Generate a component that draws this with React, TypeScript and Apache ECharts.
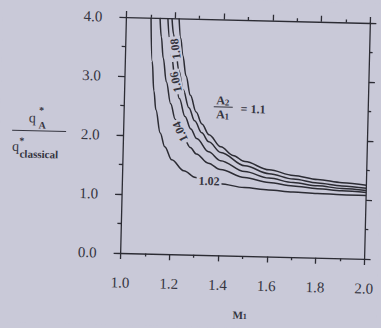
import React, { useEffect, useRef } from 'react';
import * as echarts from 'echarts';

// Area ratio A2/A1 for each curve
const ratioLabels = ['1.02', '1.04', '1.06', '1.08', '1.1'];

// Mach number M1 (x) and q*_A / q*_classical (y)
const m102 = [1.101, 1.11, 1.12, 1.13, 1.15, 1.17, 1.2, 1.25, 1.3, 1.35, 1.4, 1.5, 1.6, 1.7, 1.8, 1.9, 2.0];
const q102 = [4.0, 3.26, 2.76, 2.44, 2.05, 1.82, 1.6, 1.42, 1.31, 1.26, 1.215, 1.16, 1.13, 1.105, 1.09, 1.08, 1.075];

const m104 = [1.138, 1.145, 1.155, 1.17, 1.19, 1.21, 1.23, 1.25, 1.275, 1.3, 1.35, 1.4, 1.5, 1.6, 1.7, 1.8, 1.9, 2.0];
const q104 = [4.0, 3.68, 3.32, 2.92, 2.55, 2.29, 2.1, 1.95, 1.815, 1.71, 1.558, 1.456, 1.33, 1.255, 1.206, 1.171, 1.146, 1.127];

const m106 = [1.17, 1.18, 1.19, 1.205, 1.225, 1.25, 1.275, 1.3, 1.35, 1.4, 1.5, 1.6, 1.7, 1.8, 1.9, 2.0];
const q106 = [4.0, 3.63, 3.33, 2.98, 2.64, 2.34, 2.13, 1.97, 1.75, 1.605, 1.43, 1.33, 1.264, 1.219, 1.186, 1.161];

const m108 = [1.187, 1.195, 1.205, 1.22, 1.24, 1.265, 1.29, 1.32, 1.35, 1.4, 1.5, 1.6, 1.7, 1.8, 1.9, 2.0];
const q108 = [4.0, 3.73, 3.46, 3.12, 2.79, 2.49, 2.27, 2.07, 1.92, 1.744, 1.528, 1.404, 1.324, 1.268, 1.228, 1.197];

const m110 = [1.216, 1.225, 1.235, 1.25, 1.27, 1.295, 1.32, 1.35, 1.4, 1.45, 1.5, 1.6, 1.7, 1.8, 1.9, 2.0];
const q110 = [4.0, 3.66, 3.37, 3.03, 2.7, 2.42, 2.22, 2.04, 1.84, 1.7, 1.6, 1.47, 1.385, 1.326, 1.283, 1.25];

// Where each curve label sits on its curve (M1, q) and its tilt in degrees
const labelM = [1.355, 1.232, 1.2085, 1.204];
const labelQ = [1.255, 2.08, 2.92, 3.48];
const labelTilt = [0, 116, 104, 99];

const BG = '#c9c9d8';
const INK = '#2c2c34';
const TEXT = '#35353f';
const SERIF = '"Liberation Serif", "DejaVu Serif", serif';

export default function App() {
  const ref = useRef<HTMLDivElement>(null);

  useEffect(() => {
    const chart = echarts.init(ref.current!, null, { renderer: 'svg' });
    const curves = [
      [m102, q102],
      [m104, q104],
      [m106, q106],
      [m108, q108],
      [m110, q110],
    ];
    const axisLineStyle = { color: INK, width: 1.3 };
    const fmt = (v: number) => v.toFixed(1);
    const labelStyle = { fontFamily: SERIF, fontSize: 15, color: TEXT };

    const option: any = {
      animation: false,
      backgroundColor: BG,
      grid: { left: 123.5, right: 13.5, top: 20, bottom: 72 },
      xAxis: [
        {
          type: 'value', min: 1, max: 2, interval: 0.2, position: 'bottom',
          axisLine: { show: true, onZero: false, lineStyle: axisLineStyle },
          axisTick: { show: true, length: 6, lineStyle: axisLineStyle },
          minorTick: { show: true, splitNumber: 2, length: 3, lineStyle: axisLineStyle },
          splitLine: { show: false }, minorSplitLine: { show: false },
          axisLabel: { ...labelStyle, formatter: fmt, margin: 22 },
        },
        {
          type: 'value', min: 1, max: 2, interval: 0.2, position: 'top',
          axisLine: { show: true, onZero: false, lineStyle: axisLineStyle },
          axisTick: { show: true, length: 6, lineStyle: axisLineStyle },
          minorTick: { show: true, splitNumber: 2, length: 3, lineStyle: axisLineStyle },
          splitLine: { show: false },
          axisLabel: { show: false },
        },
      ],
      yAxis: [
        {
          type: 'value', min: 0, max: 4, interval: 1, position: 'left',
          axisLine: { show: true, onZero: false, lineStyle: axisLineStyle },
          axisTick: { show: true, length: 7, lineStyle: axisLineStyle },
          minorTick: { show: true, splitNumber: 2, length: 4, lineStyle: axisLineStyle },
          splitLine: { show: false },
          axisLabel: { ...labelStyle, formatter: fmt, margin: 24 },
        },
        {
          type: 'value', min: 0, max: 4, interval: 1, position: 'right',
          axisLine: { show: true, onZero: false, lineStyle: axisLineStyle },
          axisTick: { show: true, length: 6, lineStyle: axisLineStyle },
          minorTick: { show: true, splitNumber: 2, length: 3, lineStyle: axisLineStyle },
          splitLine: { show: false },
          axisLabel: { show: false },
        },
      ],
      series: curves.map(([mx, qy], i) => ({
        type: 'line',
        name: ratioLabels[i],
        xAxisIndex: 0,
        yAxisIndex: 0,
        data: mx.map((m, j) => [m, qy[j]]),
        showSymbol: false,
        smooth: 0.35,
        smoothMonotone: 'x',
        lineStyle: { color: INK, width: 1.5 },
        clip: true,
        z: 2,
      })),
    };
    chart.setOption(option);

    const curveLabels = labelM.map((m, i) => {
      const p = chart.convertToPixel({ xAxisIndex: 0, yAxisIndex: 0 }, [m, labelQ[i]]) as number[];
      return {
        type: 'text',
        x: p[0],
        y: p[1],
        rotation: (labelTilt[i] * Math.PI) / 180,
        z: 100,
        style: {
          text: ratioLabels[i],
          align: 'center',
          verticalAlign: 'middle',
          font: `bold 12px ${SERIF}`,
          fill: TEXT,
          backgroundColor: BG,
          padding: [0, 2],
        },
      };
    });

    const graphic: any[] = [
      ...curveLabels,
      // y-axis title: q*_A / q*_classical
      { type: 'text', x: 32, y: 123, z: 100, style: { text: 'q', align: 'center', verticalAlign: 'middle', font: `14px ${SERIF}`, fill: TEXT } },
      { type: 'text', x: 42, y: 130, z: 100, style: { text: 'A', align: 'center', verticalAlign: 'middle', font: `bold 10px ${SERIF}`, fill: TEXT } },
      { type: 'text', x: 41, y: 115, z: 100, style: { text: '*', align: 'center', verticalAlign: 'middle', font: `bold 10px ${SERIF}`, fill: TEXT } },
      { type: 'line', z: 100, shape: { x1: 12, y1: 136, x2: 66, y2: 136 }, style: { stroke: TEXT, lineWidth: 1 } },
      { type: 'text', x: 16, y: 152, z: 100, style: { text: 'q', align: 'center', verticalAlign: 'middle', font: `14px ${SERIF}`, fill: TEXT } },
      { type: 'text', x: 22, y: 146, z: 100, style: { text: '*', align: 'center', verticalAlign: 'middle', font: `bold 10px ${SERIF}`, fill: TEXT } },
      { type: 'text', x: 20, y: 159, z: 100, style: { text: 'classical', align: 'left', verticalAlign: 'middle', font: `bold 11px ${SERIF}`, fill: TEXT } },
      // A2/A1 = 1.1 annotation
      {
        type: 'text', x: 222, y: 101, z: 100,
        style: {
          text: '{a|A}{s|2}', align: 'center', verticalAlign: 'middle', fill: TEXT,
          rich: { a: { font: `bold 12px ${SERIF}`, fill: TEXT }, s: { font: `bold 9px ${SERIF}`, fill: TEXT, padding: [4, 0, 0, 0] } },
        },
      },
      { type: 'line', z: 100, shape: { x1: 213, y1: 107.5, x2: 232, y2: 107.5 }, style: { stroke: TEXT, lineWidth: 1 } },
      {
        type: 'text', x: 222, y: 115, z: 100,
        style: {
          text: '{a|A}{s|1}', align: 'center', verticalAlign: 'middle', fill: TEXT,
          rich: { a: { font: `bold 12px ${SERIF}`, fill: TEXT }, s: { font: `bold 9px ${SERIF}`, fill: TEXT, padding: [4, 0, 0, 0] } },
        },
      },
      { type: 'text', x: 240, y: 109, z: 100, style: { text: '= 1.1', align: 'left', verticalAlign: 'middle', font: `bold 12px ${SERIF}`, fill: TEXT } },
      // x-axis title M1
      {
        type: 'text', x: 244, y: 315, z: 100,
        style: {
          text: '{m|M}{s|1}', align: 'center', verticalAlign: 'middle', fill: TEXT,
          rich: { m: { font: `bold 11px ${SERIF}`, fill: TEXT }, s: { font: `bold 8px ${SERIF}`, fill: TEXT, padding: [3, 0, 0, 0] } },
        },
      },
    ];
    chart.setOption({ graphic });

    return () => chart.dispose();
  }, []);

  return (
    <div style={{ position: 'fixed', left: 0, top: 0, width: 381, height: 328, background: BG, overflow: 'hidden' }}>
      <div
        ref={ref}
        style={{ width: 381, height: 328, transform: 'rotate(1.4deg)', transformOrigin: '245.5px 138px' }}
      />
    </div>
  );
}
